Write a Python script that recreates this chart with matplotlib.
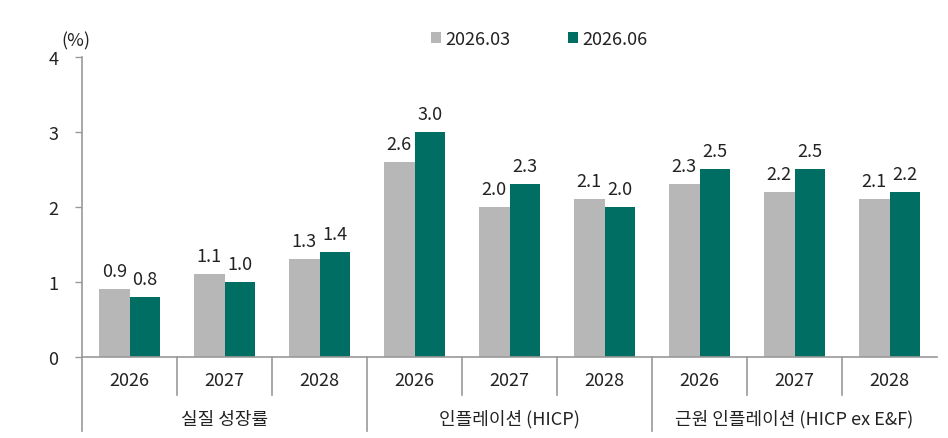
import matplotlib
matplotlib.use('Agg')
import matplotlib.pyplot as plt
import matplotlib.transforms as mtransforms
import numpy as np

plt.rcParams['font.family'] = ['Noto Sans CJK KR', 'DejaVu Sans']

# Data
years = ['2026', '2027', '2028'] * 3
groups = ['실질 성장률', '인플레이션 (HICP)', '근원 인플레이션 (HICP ex E&F)']
series_names = ['2026.03', '2026.06']
mar_vals = [0.9, 1.1, 1.3, 2.6, 2.0, 2.1, 2.3, 2.2, 2.1]
jun_vals = [0.8, 1.0, 1.4, 3.0, 2.3, 2.0, 2.5, 2.5, 2.2]

gray = '#B7B7B7'
green = '#006E63'
axis_col = '#999999'
text_col = '#222222'
fs = 13

fig = plt.figure(figsize=(9.48, 4.39), dpi=100)
ax = fig.add_axes([0.0865, 0.1845, 0.9019, 0.6835])

x = np.arange(len(years))
w = 0.32
b1 = ax.bar(x - w / 2, mar_vals, w, color=gray, label=series_names[0])
b2 = ax.bar(x + w / 2, jun_vals, w, color=green, label=series_names[1])

for bars, vals in ((b1, mar_vals), (b2, jun_vals)):
    for rect, v in zip(bars, vals):
        ax.text(rect.get_x() + rect.get_width() / 2, v + 0.12, f'{v:.1f}',
                ha='center', va='bottom', fontsize=fs, color=text_col)

ax.set_xlim(-0.5, len(years) - 0.5)
ax.set_ylim(0, 4)
ax.set_yticks([0, 1, 2, 3, 4])
ax.tick_params(axis='y', length=5, width=1, color=axis_col, labelsize=fs,
               labelcolor=text_col, pad=12)
ax.set_xticks([])

for s in ['top', 'right']:
    ax.spines[s].set_visible(False)
for s in ['left', 'bottom']:
    ax.spines[s].set_color(axis_col)
    ax.spines[s].set_linewidth(1.2)

trans = mtransforms.blended_transform_factory(ax.transData, ax.transAxes)

# year labels and separators
for i, yr in enumerate(years):
    ax.text(i, -0.075, yr, transform=trans, ha='center', va='center',
            fontsize=fs, color=text_col)
for i in range(1, len(years)):
    if i % 3 != 0:
        ax.plot([i - 0.5, i - 0.5], [0, -0.125], transform=trans,
                color=axis_col, lw=1.2, clip_on=False)

# group labels and separators
for g, name in enumerate(groups):
    ax.text(3 * g + 1, -0.205, name, transform=trans, ha='center', va='center',
            fontsize=fs, color=text_col)
for g in range(3):
    ax.plot([3 * g - 0.5, 3 * g - 0.5], [0, -0.245], transform=trans,
            color=axis_col, lw=1.2, clip_on=False)

ax.text(-0.024, 1.055, '(%)', transform=ax.transAxes, ha='left', va='center',
        fontsize=fs, color=text_col)

ax.legend(loc='center', bbox_to_anchor=(0.535, 1.06), ncol=2, frameon=False,
          fontsize=fs, handlelength=0.55, handleheight=0.55, handletextpad=0.25,
          columnspacing=3.2, labelcolor=text_col)

fig.savefig('out.png', dpi=100)
